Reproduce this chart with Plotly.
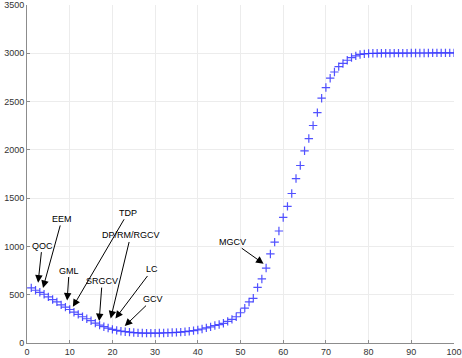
import plotly.graph_objects as go

# ---- data ----
x_vals = list(range(1, 101))
y_vals = [
    571, 546, 525, 505, 478, 450, 426, 395, 371, 347,
    319, 296, 272, 251, 231, 206, 185, 169, 155, 141,
    131, 122, 117, 113, 108, 105, 103, 102, 102, 102,
    103, 104, 106, 108, 110, 113, 117, 122, 128, 135,
    145, 157, 167, 181, 191, 204, 224, 245, 272, 313,
    361, 425, 463, 575, 663, 776, 922, 1045, 1160, 1300,
    1415, 1548, 1703, 1838, 1990, 2117, 2252, 2386, 2535, 2645,
    2742, 2806, 2862, 2895, 2928, 2956, 2973, 2988, 2994, 2998,
    3000, 3000, 3001, 3001, 3001, 3002, 3002, 3002, 3002, 3003,
    3003, 3003, 3003, 3003, 3004, 3004, 3004, 3004, 3004, 3004,
]

ann_labels = ["QOC", "EEM", "GML", "TDP", "SRGCV", "DP/RM/RGCV", "LC", "GCV", "MGCV"]
ann_x = [2.6, 3.75, 9.4, 10.75, 16.9, 19.6, 20.7, 22.9, 55.4]
ann_y = [625, 570, 440, 375, 227, 254, 254, 175, 821]

x_ticks = list(range(0, 101, 10))
y_ticks = list(range(0, 3501, 500))

# label offsets (pixels) from arrow head to text centre
ann_ax = [4, 19, 2, 55, 3, 20, 37, 28, -31]
ann_ay = [-37, -69, -30, -94, -40, -83, -49, -27, -22]

fig = go.Figure()
fig.add_trace(go.Scatter(
    x=x_vals, y=y_vals, mode="markers",
    marker=dict(symbol="cross-thin", size=6,
                line=dict(color="rgba(50,50,255,0.85)", width=1.2)),
    showlegend=False, hoverinfo="skip",
))

annotations = []
for lab, hx, hy, ax, ay in zip(ann_labels, ann_x, ann_y, ann_ax, ann_ay):
    annotations.append(dict(
        x=hx, y=hy, xref="x", yref="y", text=lab,
        showarrow=True, ax=ax, ay=ay,
        arrowhead=2, arrowsize=1.5, arrowwidth=1, arrowcolor="black",
        font=dict(family="Liberation Sans, Arial, sans-serif", size=9, color="black"),
        standoff=0,
    ))

axis_common = dict(
    showgrid=True, gridcolor="#ececec", gridwidth=1,
    showline=True, linecolor="#8c8c8c", linewidth=1,
    ticks="inside", ticklen=3, tickcolor="#8c8c8c",
    zeroline=False, mirror=False, automargin=False,
    ticklabeloverflow="allow",
    tickfont=dict(family="Liberation Sans, Arial, sans-serif", size=9, color="#333333"),
)

fig.update_layout(
    width=462, height=358,
    margin=dict(l=27, r=8, t=5, b=15),
    paper_bgcolor="white", plot_bgcolor="white",
    xaxis=dict(range=[0, 100], tickvals=x_ticks, **axis_common),
    yaxis=dict(range=[0, 3500], tickvals=y_ticks, **axis_common),
    annotations=annotations,
)

fig.write_html(
    "out.html",
    config={"displayModeBar": False, "staticPlot": True},
    post_script="document.body.style.margin='0';document.body.style.overflow='hidden';",
)
